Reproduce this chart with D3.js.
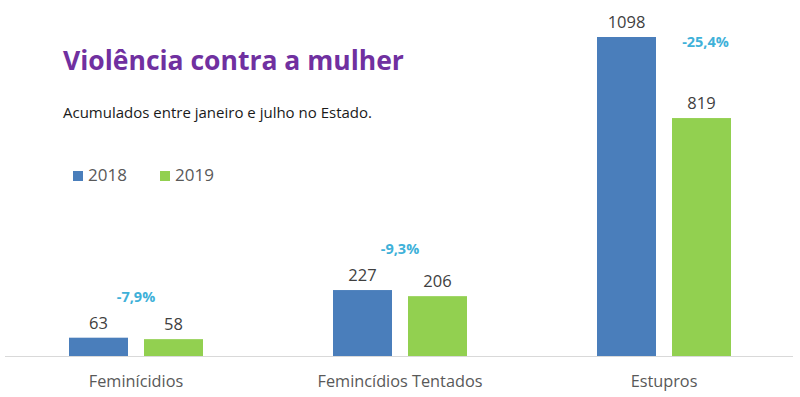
<!DOCTYPE html>
<html><head><meta charset="utf-8">
<script src="https://cdn.jsdelivr.net/npm/d3@7"></script>
<style>body{margin:0;background:#fff}svg{display:block}</style>
</head><body><svg id="c" width="800" height="397"></svg>
<script>
const categories = ["Feminícidios", "Femincídios Tentados", "Estupros"];
const seriesNames = ["2018", "2019"];
const values2018 = [63, 227, 1098];
const values2019 = [58, 206, 819];
const changes = ["-7,9%", "-9,3%", "-25,4%"];
const colors = ["#4a7ebb", "#92d050"];

const svg = d3.select("#c");
const font = "'Open Sans', sans-serif";
const baseY = 356;
const x = d3.scaleBand().domain(categories).range([4, 796]).padding(0);
const y = d3.scaleLinear().domain([0, 1098]).range([baseY, 37]);
const sub = d3.scaleBand().domain(seriesNames).range([-67, 67]).paddingInner(16/75).paddingOuter(0);

// baseline
svg.append("line").attr("x1", 5).attr("x2", 793).attr("y1", baseY + 0.5).attr("y2", baseY + 0.5)
  .attr("stroke", "#d9d9d9").attr("stroke-width", 1);

const data = categories.map((c, i) => ({c, vals: [values2018[i], values2019[i]], ch: changes[i]}));
const g = svg.selectAll("g.grp").data(data).join("g").attr("class", "grp")
  .attr("transform", d => `translate(${x(d.c) + x.bandwidth()/2},0)`);

g.selectAll("rect").data(d => d.vals.map((v, j) => ({v, s: seriesNames[j], j}))).join("rect")
  .attr("x", d => sub(d.s)).attr("width", sub.bandwidth())
  .attr("y", d => y(d.v)).attr("height", d => baseY - y(d.v))
  .attr("fill", d => colors[d.j]);

g.selectAll("text.val").data(d => d.vals.map((v, j) => ({v, s: seriesNames[j]}))).join("text")
  .attr("class", "val").attr("x", d => sub(d.s) + sub.bandwidth()/2).attr("y", d => y(d.v) - 9)
  .attr("text-anchor", "middle").attr("font-family", font).attr("font-size", 16.5).attr("fill", "#404040")
  .text(d => d.v);

g.append("text").attr("text-anchor", "middle").attr("font-family", font).attr("font-weight", "bold")
  .attr("font-size", 14.5).attr("fill", "#3fb1d9")
  .attr("x", (d, i) => i === 2 ? sub("2019") + sub.bandwidth()/2 + 4 : 0)
  .attr("y", (d, i) => i === 2 ? y(d3.max(d.vals)) + 10 : y(d3.max(d.vals)) - 36)
  .text(d => d.ch);

g.append("text").attr("text-anchor", "middle").attr("font-family", font).attr("font-size", 16.3)
  .attr("fill", "#595959").attr("x", 0).attr("y", 387).text(d => d.c);

// title
svg.append("text").attr("x", 63).attr("y", 70).attr("font-family", font).attr("font-weight", "bold")
  .attr("font-size", 26.5).attr("fill", "#7030a0").text("Violência contra a mulher");
svg.append("text").attr("x", 63).attr("y", 118).attr("font-family", font)
  .attr("font-size", 15).attr("fill", "#1a1a1a").text("Acumulados entre janeiro e julho no Estado.");

// legend
const leg = svg.selectAll("g.leg").data(seriesNames).join("g").attr("class", "leg")
  .attr("transform", (d, i) => `translate(${73 + i*87},171)`);
leg.append("rect").attr("width", 10).attr("height", 10).attr("fill", (d, i) => colors[i]);
leg.append("text").attr("x", 15).attr("y", 10).attr("font-family", font).attr("font-size", 17)
  .attr("fill", "#595959").text(d => d);
</script></body></html>
